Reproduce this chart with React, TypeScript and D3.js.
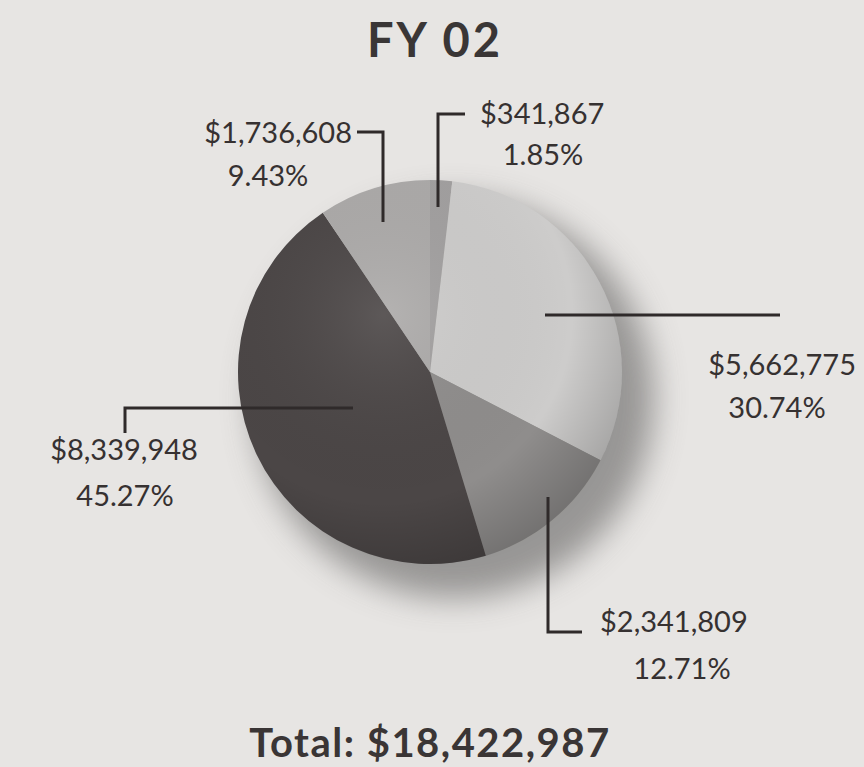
import React, { useEffect, useRef } from 'react';
import * as d3 from 'd3';

// slice order clockwise from 12 o'clock
const amounts = [341867, 5662775, 2341809, 8339948, 1736608];
const amountLabels = ['$341,867', '$5,662,775', '$2,341,809', '$8,339,948', '$1,736,608'];
const percentLabels = ['1.85%', '30.74%', '12.71%', '45.27%', '9.43%'];
const sliceFills = ['#a2a0a0', '#cdcccb', '#8f8d8c', '#4b4646', '#acaaa9'];
const chartTitle = 'FY 02';
const totalLabel = 'Total: $18,422,987';

// callout layout (relative to pie centre): leader polyline + label anchors
const callouts = [
  { line: [[8, -165], [8, -258], [35, -258]], amt: [50, -258, 'start'], pct: [113, -217] },
  { line: [[115, -57], [350, -57]], amt: [426, -7, 'end'], pct: [347, 36] },
  { line: [[118, 125], [118, 260], [152, 260]], amt: [170, 250, 'start'], pct: [252, 297] },
  { line: [[-77, 36], [-305, 36], [-305, 61]], amt: [-306, 78, 'middle'], pct: [-305, 124] },
  { line: [[-47, -150], [-47, -240], [-73, -240]], amt: [-78, -239, 'end'], pct: [-162, -196] },
];

const W = 864;
const H = 767;
const cx = 430;
const cy = 372;
const R = 192;
const FONT = 'Lato, "Noto Sans", sans-serif';

function App() {
  const svgRef = useRef<SVGSVGElement>(null);

  useEffect(() => {
    const svg = d3.select(svgRef.current);
    svg.selectAll('*').remove();

    const defs = svg.append('defs');
    defs.append('filter').attr('id', 'blur')
      .attr('x', '-30%').attr('y', '-30%').attr('width', '160%').attr('height', '160%')
      .append('feGaussianBlur').attr('stdDeviation', 16);

    const shade = defs.append('radialGradient').attr('id', 'shade')
      .attr('cx', '38%').attr('cy', '35%').attr('r', '70%');
    shade.append('stop').attr('offset', '0%').attr('stop-color', '#fff').attr('stop-opacity', 0.1);
    shade.append('stop').attr('offset', '70%').attr('stop-color', '#000').attr('stop-opacity', 0);
    shade.append('stop').attr('offset', '100%').attr('stop-color', '#000').attr('stop-opacity', 0.2);

    svg.append('rect').attr('width', W).attr('height', H).attr('fill', '#e7e5e3');

    // title
    svg.append('text')
      .attr('x', 435).attr('y', 57)
      .attr('text-anchor', 'middle')
      .attr('font-family', FONT).attr('font-weight', 700)
      .attr('font-size', 47).attr('letter-spacing', 3)
      .attr('fill', '#3a3636')
      .text(chartTitle);

    // drop shadow
    svg.append('circle')
      .attr('cx', cx + 24).attr('cy', cy + 26).attr('r', R + 8)
      .attr('fill', '#7d7b7a').attr('opacity', 0.75)
      .attr('filter', 'url(#blur)');

    const pie = d3.pie<number>().sort(null).value(d => d);
    const arc = d3.arc<d3.PieArcDatum<number>>().innerRadius(0).outerRadius(R);
    const g = svg.append('g').attr('transform', `translate(${cx},${cy})`);

    g.selectAll('path.slice')
      .data(pie(amounts))
      .enter()
      .append('path')
      .attr('class', 'slice')
      .attr('d', arc)
      .attr('fill', (d, i) => sliceFills[i]);

    g.append('circle').attr('r', R).attr('fill', 'url(#shade)');

    // leader lines + labels
    const line = d3.line();
    callouts.forEach((c, i) => {
      g.append('path')
        .attr('d', line(c.line as [number, number][]))
        .attr('fill', 'none')
        .attr('stroke', '#2f2a2a')
        .attr('stroke-width', 3);

      g.append('text')
        .attr('x', c.amt[0] as number).attr('y', c.amt[1] as number)
        .attr('dy', '0.36em')
        .attr('text-anchor', c.amt[2] as string)
        .attr('font-family', FONT).attr('font-size', 29)
        .attr('fill', '#363131')
        .text(amountLabels[i]);

      g.append('text')
        .attr('x', c.pct[0]).attr('y', c.pct[1])
        .attr('dy', '0.36em')
        .attr('text-anchor', 'middle')
        .attr('font-family', FONT).attr('font-size', 29)
        .attr('fill', '#363131')
        .text(percentLabels[i]);
    });

    svg.append('text')
      .attr('x', 430).attr('y', 757)
      .attr('text-anchor', 'middle')
      .attr('font-family', FONT).attr('font-weight', 700)
      .attr('font-size', 40).attr('letter-spacing', 1.5)
      .attr('fill', '#3a3535')
      .text(totalLabel);
  }, []);

  return (
    <svg
      ref={svgRef}
      width={W}
      height={H}
      style={{ position: 'absolute', left: 0, top: 0, display: 'block' }}
    />
  );
}

export default App;
